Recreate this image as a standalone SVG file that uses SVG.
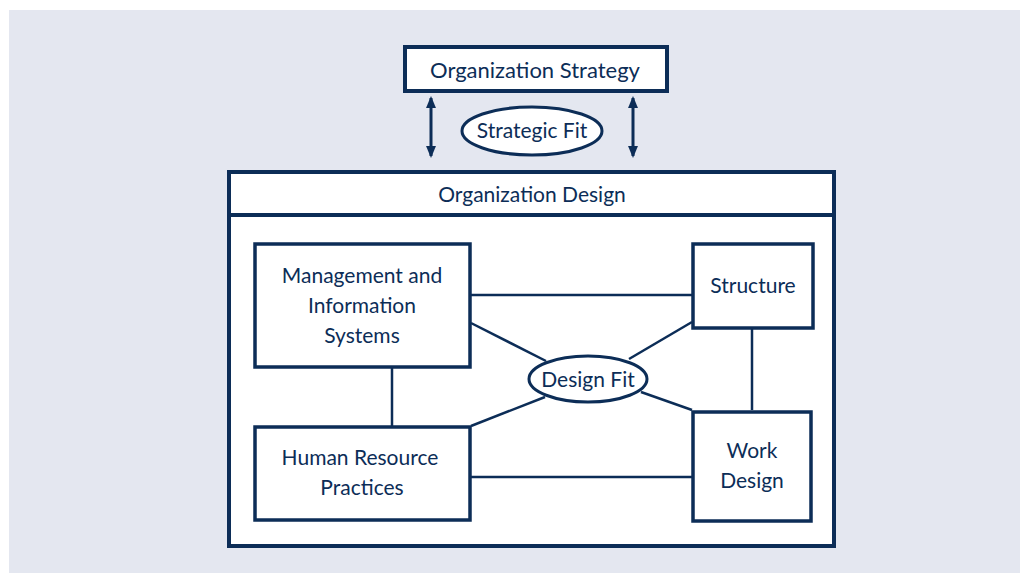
<svg xmlns="http://www.w3.org/2000/svg" width="1020" height="573" viewBox="0 0 1020 573">
<defs>
<style>
.box{fill:#fff;stroke:#0c2d57;stroke-width:3.5}
.thick{fill:#fff;stroke:#0c2d57;stroke-width:4}
.ell{fill:#fff;stroke:#0c2d57;stroke-width:3}
.ln{stroke:#0c2d57;stroke-width:2.5;fill:none}
.arr{stroke:#0c2d57;stroke-width:3;fill:none;marker-start:url(#ah);marker-end:url(#ah)}
text{font-family:Lato,"Open Sans","Liberation Sans",sans-serif;font-size:21px;fill:#0c2d57;text-anchor:middle}
.big{font-size:22px}
</style>
<marker id="ah" viewBox="0 0 12 10" refX="10" refY="5" markerWidth="4" markerHeight="3.3" orient="auto-start-reverse" markerUnits="strokeWidth">
<path d="M0,0 L12,5 L0,10 z" fill="#0c2d57"/>
</marker>
</defs>
<rect x="9" y="10" width="1011" height="563" fill="#e4e7f0"/>
<g id="strategy">
<rect class="thick" x="405" y="47" width="262" height="44"/>
<text class="big" x="535" y="78">Organization Strategy</text>
</g>
<g id="strategic-fit">
<ellipse class="ell" cx="532" cy="131" rx="70" ry="24"/>
<text x="532" y="138">Strategic Fit</text>
</g>
<g id="org-design">
<rect class="thick" x="229" y="172" width="605" height="374"/>
<line x1="229" y1="215" x2="834" y2="215" stroke="#0c2d57" stroke-width="4"/>
<text x="532" y="202">Organization Design</text>
</g>
<g id="connectors">
<line class="arr" x1="431" y1="98" x2="431" y2="156"/>
<line class="arr" x1="633" y1="98" x2="633" y2="156"/>
<line class="ln" x1="471" y1="295" x2="692" y2="295"/>
<line class="ln" x1="471" y1="477" x2="692" y2="477"/>
<line class="ln" x1="392" y1="368" x2="392" y2="426"/>
<line class="ln" x1="752" y1="329" x2="752" y2="410"/>
<line class="ln" x1="471" y1="323" x2="546" y2="361"/>
<line class="ln" x1="692" y1="322" x2="629" y2="359"/>
<line class="ln" x1="471" y1="426" x2="545" y2="397"/>
<line class="ln" x1="692" y1="410" x2="641" y2="392"/>
</g>
<g id="mis">
<rect class="box" x="255" y="244" width="215" height="123"/>
<text x="362" y="283">Management and</text>
<text x="362" y="313">Information</text>
<text x="362" y="343">Systems</text>
</g>
<g id="structure">
<rect class="box" x="693" y="244" width="120" height="84"/>
<text x="753" y="293">Structure</text>
</g>
<g id="hr">
<rect class="box" x="255" y="427" width="215" height="93"/>
<text x="360" y="465">Human Resource</text>
<text x="362" y="495">Practices</text>
</g>
<g id="work">
<rect class="box" x="693" y="412" width="118" height="109"/>
<text x="752" y="458">Work</text>
<text x="752" y="488">Design</text>
</g>
<g id="design-fit">
<ellipse class="ell" cx="588" cy="379" rx="59" ry="23"/>
<text x="588" y="387">Design Fit</text>
</g>
</svg>
